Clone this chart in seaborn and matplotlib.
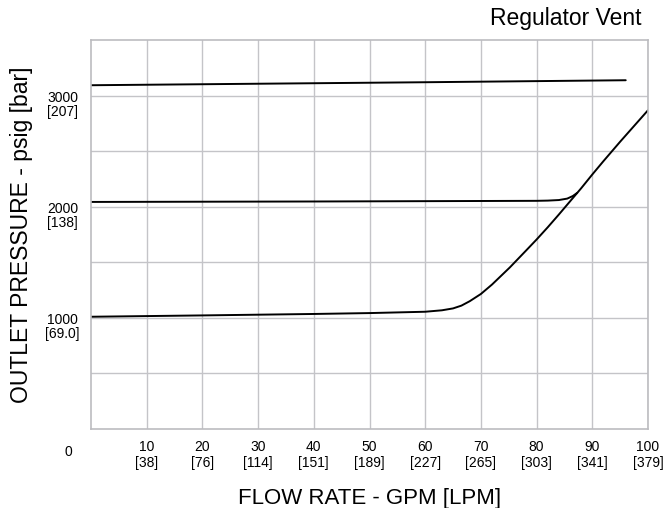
import numpy as np
import pandas as pd
import matplotlib
matplotlib.use('Agg')
import matplotlib.pyplot as plt
import matplotlib.transforms as mtransforms
import seaborn as sns

# data (GPM vs psig)
flow_3000 = [0, 20, 40, 60, 80, 96]
psi_3000 = [3093, 3102, 3111, 3120, 3130, 3138]

flow_2000 = [0, 20, 40, 60, 80, 82, 84, 85.5, 86.5, 87.3]
psi_2000 = [2043, 2045, 2047, 2050, 2053, 2055, 2060, 2073, 2096, 2125]

flow_1000 = [0, 20, 40, 50, 60, 63, 65, 66.5, 68, 70, 72, 75.2, 78, 80, 82, 84, 86, 88, 90, 92, 95, 100]
psi_1000 = [1010, 1022, 1035, 1043, 1055, 1068, 1085, 1110, 1150, 1215, 1300, 1454, 1600, 1705, 1815, 1930, 2048, 2166, 2290, 2410, 2585, 2868]

x_ticks = [10, 20, 30, 40, 50, 60, 70, 80, 90, 100]
x_lpm = ['38', '76', '114', '151', '189', '227', '265', '303', '341', '379']
y_ticks = [1000, 2000, 3000]
y_bar = ['69.0', '138', '207']

sns.set_style('white')
plt.rcParams['font.family'] = ['Liberation Sans', 'DejaVu Sans']
plt.rcParams['text.color'] = 'black'

fig = plt.figure(figsize=(6.65, 5.08), dpi=100)
ax = fig.add_axes([91 / 665, 1 - 429 / 508, 557 / 665, 389 / 508])

for fx, py in [(flow_3000, psi_3000), (flow_2000, psi_2000), (flow_1000, psi_1000)]:
    df = pd.DataFrame({'flow': fx, 'psi': py})
    sns.lineplot(data=df, x='flow', y='psi', color='black', linewidth=1.4, ax=ax, sort=False)

ax.set_xlim(0, 100)
ax.set_ylim(0, 3500)

# grid + tick labels
ax.set_xticks(x_ticks)
ax.set_xticklabels([f'{t}\n[{l}]' for t, l in zip(x_ticks, x_lpm)], fontsize=10, linespacing=1.15)
ax.set_yticks(np.arange(500, 3500, 500))
ylabs = []
for v in np.arange(500, 3500, 500):
    if v in y_ticks:
        ylabs.append(f'{v}\n[{y_bar[y_ticks.index(v)]}]')
    else:
        ylabs.append('')
ax.set_yticklabels(ylabs, fontsize=10, linespacing=1.0, multialignment='center')
ax.tick_params(axis='both', length=0, colors='black')
ax.tick_params(axis='x', pad=8)
ax.tick_params(axis='y', pad=4)
shift = mtransforms.ScaledTranslation(-23 / 100, -8 / 100, fig.dpi_scale_trans)
for lab in ax.get_yticklabels():
    lab.set_ha('center')
    lab.set_transform(lab.get_transform() + shift)
ax.grid(True, color='#c4c4c8', linewidth=1.0)
for s in ax.spines.values():
    s.set_color('#bcbcc0')
    s.set_linewidth(1.2)

ax.text(-4, -0.06, '0', transform=ax.get_xaxis_transform(), fontsize=10, ha='center', va='center')

ax.set_xlabel('FLOW RATE - GPM [LPM]', fontsize=16, labelpad=13, color='black')
ax.set_ylabel('OUTLET PRESSURE - psig [bar]', fontsize=16.5, color='black')
ax.yaxis.set_label_coords(-0.104, 0.50)
fig.text(641 / 665, 1 - 18 / 508, 'Regulator Vent', fontsize=16.5, ha='right', va='center')

fig.savefig('out.png', dpi=100)
